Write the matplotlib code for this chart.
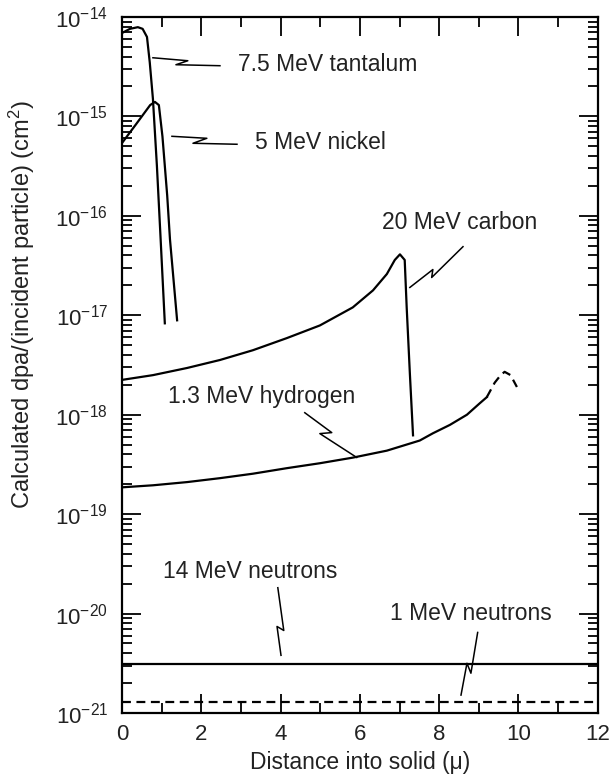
import matplotlib.pyplot as plt
import numpy as np
from matplotlib.ticker import FixedLocator, LogLocator, MultipleLocator

plt.rcParams['font.family'] = ['Liberation Sans', 'DejaVu Sans']
plt.rcParams['mathtext.default'] = 'regular'

# Calculated damage (dpa per incident particle, cm^2) vs depth (microns)
ta_x = [0, 0.2, 0.40, 0.52, 0.63, 0.70, 0.78, 0.88, 0.97, 1.08]
ta_y = [6.9e-15, 7.6e-15, 7.9e-15, 7.6e-15, 6.3e-15, 3.5e-15, 1.5e-15, 3.2e-16, 6.3e-17, 8.3e-18]

ni_x = [0, 0.35, 0.71, 0.83, 0.93, 1.02, 1.14, 1.21, 1.39]
ni_y = [5.4e-16, 8.3e-16, 1.3e-15, 1.4e-15, 1.3e-15, 6.3e-16, 1.6e-16, 5.8e-17, 8.9e-18]

c_x = [0, 0.78, 1.64, 2.47, 3.30, 4.16, 4.99, 5.82, 6.33, 6.68, 6.88, 7.01, 7.13, 7.18, 7.26, 7.34]
c_y = [2.24e-18, 2.5e-18, 2.95e-18, 3.55e-18, 4.45e-18, 5.9e-18, 7.9e-18, 1.2e-17,
       1.78e-17, 2.6e-17, 3.6e-17, 4.1e-17, 3.6e-17, 1.2e-17, 2.6e-18, 6.2e-19]

h_x = [0, 0.78, 1.64, 2.47, 3.30, 4.16, 4.99, 5.82, 6.68, 7.51, 7.84, 8.27, 8.70, 9.02, 9.20]
h_y = [1.86e-19, 1.95e-19, 2.1e-19, 2.3e-19, 2.55e-19, 2.9e-19, 3.25e-19, 3.7e-19,
       4.35e-19, 5.5e-19, 6.5e-19, 7.9e-19, 1.0e-18, 1.3e-18, 1.5e-18]
# end of the hydrogen range (dashed)
h_tail_x = [9.20, 9.40, 9.55, 9.65, 9.80, 9.96]
h_tail_y = [1.5e-18, 2.1e-18, 2.5e-18, 2.7e-18, 2.5e-18, 1.9e-18]

n14_y = 3.1e-21
n1_y = 1.3e-21

decades = np.arange(-21, -13)

labels = ['7.5 MeV tantalum', '5 MeV nickel', '20 MeV carbon',
          '1.3 MeV hydrogen', '14 MeV neutrons', '1 MeV neutrons']
# label anchor (x, log10 y) and leader polylines (x, log10 y)
label_pos = [(2.92, -14.48), (3.35, -15.26), (6.55, -16.07),
             (1.16, -17.82), (1.03, -19.58), (6.76, -20.0)]
leaders = [
    [(0.78, -14.41), (1.66, -14.44), (1.36, -14.48), (2.47, -14.49)],
    [(1.26, -15.20), (2.14, -15.22), (1.79, -15.27), (2.90, -15.28)],
    [(7.26, -16.72), (7.84, -16.54), (7.81, -16.62), (8.60, -16.31)],
    [(4.61, -17.98), (5.29, -18.18), (4.99, -18.19), (5.92, -18.43)],
    [(3.93, -19.74), (4.08, -20.17), (3.91, -20.13), (4.01, -20.42)],
    [(8.97, -20.19), (8.80, -20.60), (8.70, -20.50), (8.55, -20.82)],
]

fig = plt.figure(figsize=(6.1, 7.76), dpi=100)
ax = fig.add_axes([0.2, 0.0812, 0.78, 0.8969])

lw = 1.6
ax.plot(ta_x, ta_y, color='k', lw=lw)
ax.plot(ni_x, ni_y, color='k', lw=lw)
ax.plot(c_x, c_y, color='k', lw=lw)
ax.plot(h_x, h_y, color='k', lw=lw)
ax.plot(h_tail_x, h_tail_y, color='k', lw=lw, dashes=(4, 2.5))
ax.plot([0, 12], [n14_y, n14_y], color='k', lw=lw)
ax.plot([0, 12], [n1_y, n1_y], color='k', lw=lw, dashes=(4, 2.5))

for pts in leaders:
    lx = [p[0] for p in pts]
    ly = [10 ** p[1] for p in pts]
    ax.plot(lx, ly, color='k', lw=1.1)

for txt, (tx, ty) in zip(labels, label_pos):
    ax.text(tx, 10 ** ty, txt, fontsize=16.5, color='#222222', ha='left', va='center')

ax.set_yscale('log')
ax.set_xlim(0, 12)
ax.set_ylim(1e-21, 1e-14)
ax.xaxis.set_major_locator(MultipleLocator(2))
ax.xaxis.set_minor_locator(MultipleLocator(1))
ax.yaxis.set_major_locator(FixedLocator(10.0 ** decades))
ax.yaxis.set_minor_locator(LogLocator(base=10, subs=np.arange(2, 10), numticks=100))

ax.tick_params(which='both', direction='in', top=True, right=True, width=1.3,
               labelsize=16, labelcolor='#222222')
ax.tick_params(which='major', length=14)
ax.tick_params(which='minor', length=7)
ax.tick_params(axis='y', pad=10)
ax.tick_params(axis='x', pad=8)
for s in ax.spines.values():
    s.set_linewidth(1.6)

ax.set_xlabel('Distance into solid (\u03bc)', fontsize=16.5, color='#222222', va='bottom')
ax.set_ylabel('Calculated dpa/(incident particle) (cm$^2$)', fontsize=17, color='#222222')
ax.xaxis.set_label_coords(0.5, -0.088)
ax.yaxis.set_label_coords(-0.179, 0.586)

fig.savefig('out.png', dpi=100)
